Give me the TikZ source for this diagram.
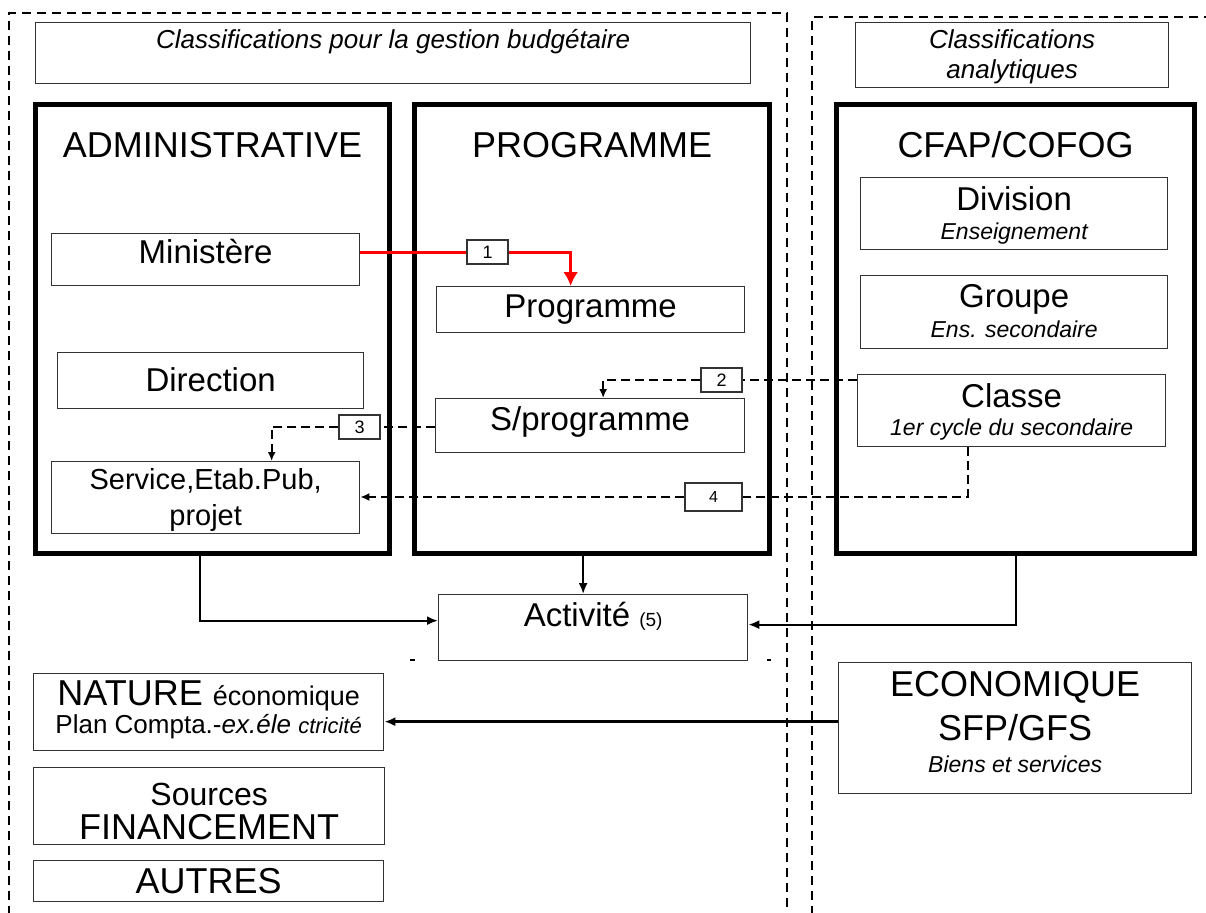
\documentclass[tikz,border=0pt]{standalone}
\usepackage{fontspec}
\setmainfont{Liberation Sans}
\usetikzlibrary{calc,arrows.meta,positioning}

\newcommand{\fTitle}{\fontsize{36}{40}\selectfont}
\newcommand{\fBox}{\fontsize{33}{36}\selectfont}
\newcommand{\fServ}{\fontsize{29}{32}\selectfont}
\newcommand{\fNote}{\fontsize{23}{26}\selectfont\itshape}
\newcommand{\fHead}{\fontsize{26}{30}\selectfont\itshape}

\begin{document}
\begin{tikzpicture}[x=1pt, y=-1pt,
                link/.style={draw, line width=2pt, -{Latex[length=11pt,width=9pt]}},
                dlink/.style={draw, line width=2.2pt, dash pattern=on 9pt off 5pt, -{Latex[length=9pt,width=8pt]}},
                rlink/.style={draw=red, line width=3pt, -{Latex[length=14pt,width=15pt]}},
                zone/.style={draw, line width=2.5pt, dash pattern=on 9pt off 6pt}]
        \tikzset{
                box/.style    = {draw=black!80, line width=1.3pt, inner sep=0pt, anchor=north west, font=\fBox},
                frame/.style  = {draw, line width=5pt, inner sep=0pt, anchor=north west, font=\fTitle,
                                minimum height=449pt, text height=53pt, text depth=396pt},
                numbox/.style = {draw=black!80, line width=1.3pt, fill=white, inner sep=0pt,
                                minimum width=41pt, minimum height=24pt, font=\fontsize{18}{18}\selectfont},
                sub/.style    = {anchor=base, inner sep=0pt, font=\fNote}
        }
        \useasboundingbox (0,0) rectangle (1206,912);

        % the two dashed zones
        \draw[zone] (9,915) -- (9,13) -- (787,13) -- (787,915);
        \draw[zone] (812,915) -- (812,17) -- (1210,17);

        % headers
        \node[box, minimum width=715pt, minimum height=61pt, text height=26pt, text depth=35pt, font=\fHead]
                (gestion) at (35,22) {Classifications pour la gestion budgétaire};
        \node[box, minimum width=313pt, minimum height=65pt, text height=26pt, text depth=39pt, font=\fHead]
                (analyt) at (855,22) {Classifications};
        \node[sub, font=\fHead] (analytS) at ($(analyt.base)+(0,30)$) {analytiques};

        % the three columns
        \node[frame, minimum width=354pt] (adm) at (33,102) {ADMINISTRATIVE};
        \node[frame, minimum width=355pt] (prog) at (412,102) {PROGRAMME};
        \node[frame, minimum width=358pt] (cfap) at (834,102) {CFAP/COFOG};

        % administrative
        \node[box, minimum width=308pt, minimum height=52pt, text height=30pt, text depth=22pt]
                (ministere) at (51,233) {Ministère};
        \node[box, minimum width=306pt, minimum height=56pt, text height=39pt, text depth=17pt]
                (direction) at (57,352) {Direction};
        \node[box, minimum width=308pt, minimum height=72pt, text height=28pt, text depth=44pt, font=\fServ]
                (service) at (51,461) {Service,Etab.Pub,};
        \node[sub, font=\fServ] (serviceS) at ($(service.base)+(0,36)$) {projet};

        % programme
        \node[box, minimum width=308pt, minimum height=46pt, text height=31pt, text depth=15pt]
                (programme) at (436,286) {Programme};
        \node[box, minimum width=309pt, minimum height=54pt, text height=32pt, text depth=22pt]
                (sprog) at (435,398) {S/programme};

        % cfap/cofog
        \node[box, minimum width=307pt, minimum height=72pt, text height=33pt, text depth=39pt]
                (division) at (860,177) {Division};
        \node[sub] (divisionS) at ($(division.base)+(0,29)$) {Enseignement};
        \node[box, minimum width=307pt, minimum height=73pt, text height=32pt, text depth=41pt]
                (groupe) at (860,275) {Groupe};
        \node[sub] (groupeS) at ($(groupe.base)+(0,30)$) {Ens. secondaire};
        \node[box, minimum width=308pt, minimum height=72pt, text height=33pt, text depth=39pt]
                (classe) at (857,374) {Classe};
        \node[sub] (classeS) at ($(classe.base)+(0,28)$) {1er cycle du secondaire};

        % activite
        \node[box, minimum width=309pt, minimum height=66pt, text height=32pt, text depth=34pt]
                (activite) at (438,594) {Activité {\fontsize{19}{19}\selectfont(5)}};
        \draw[line width=2pt] (410,660) -- (415,660);
        \draw[line width=2pt] (767,660) -- (771,660);

        % bottom left boxes
        \node[box, minimum width=350pt, minimum height=77pt, text height=32pt, text depth=45pt, font=\fTitle]
                (nature) at (33,673) {NATURE {\fontsize{27}{27}\selectfont économique}};
        \node[sub, font=\fontsize{26}{26}\selectfont] (natureS) at ($(nature.base)+(0,28)$)
                {Plan Compta.-\textit{ex.éle} {\fontsize{22}{22}\selectfont\itshape ctricité}};
        \node[box, minimum width=351pt, minimum height=77pt, text height=38pt, text depth=39pt, font=\fontsize{32}{36}\selectfont]
                (sources) at (33,767) {Sources};
        \node[sub, font=\fTitle] (sourcesS) at ($(sources.base)+(0,34)$) {FINANCEMENT};
        \node[box, minimum width=350pt, minimum height=41pt, text height=33pt, text depth=8pt, font=\fTitle]
                (autres) at (33,860) {AUTRES};

        % economique
        \node[box, minimum width=353pt, minimum height=131pt, text height=34pt, text depth=97pt, font=\fTitle]
                (economique) at (838,662) {ECONOMIQUE};
        \node[sub, font=\fTitle] (economiqueS) at ($(economique.base)+(0,44)$) {SFP/GFS};
        \node[sub] (economiqueN) at ($(economique.base)+(0,76)$) {Biens et services};

        % numbered links
        \node[numbox] (n1) at (487.5,252) {1};
        \node[numbox] (n2) at (721.5,380) {2};
        \node[numbox] (n3) at (359.5,427) {3};
        \node[numbox, minimum width=57pt, minimum height=28pt, font=\fontsize{16}{16}\selectfont] (n4) at (713.5,497) {4};

        \draw[rlink, -] (ministere.east |- n1) -- (n1.west);
        \draw[rlink] (n1.east) -| ([xshift=-20pt]programme.north);

        \draw[dlink, -] (classe.west |- n2) -- (n2.east);
        \draw[dlink] (n2.west) -| ([xshift=13pt]sprog.north);

        \draw[dlink, -] (sprog.west |- n3) -- (n3.east);
        \draw[dlink] (n3.west) -| ([xshift=66pt]service.north);

        \draw[dlink, -] ([xshift=-44pt]classe.south) |- (n4.east);
        \draw[dlink] (n4.west) -- (service.east |- n4);

        % links to activite and nature
        \draw[link] ([xshift=-13pt]adm.south) |- ([yshift=7pt]activite.west);
        \draw[link] ([xshift=-10pt]activite.north |- prog.south) -- ([xshift=-10pt]activite.north);
        \draw[link] (cfap.south) |- ([yshift=3pt]activite.east);
        \draw[link, line width=2.5pt] ([yshift=6.5pt]economique.west) -- ([yshift=6.5pt]economique.west -| nature.east);

\end{tikzpicture}
\end{document}
